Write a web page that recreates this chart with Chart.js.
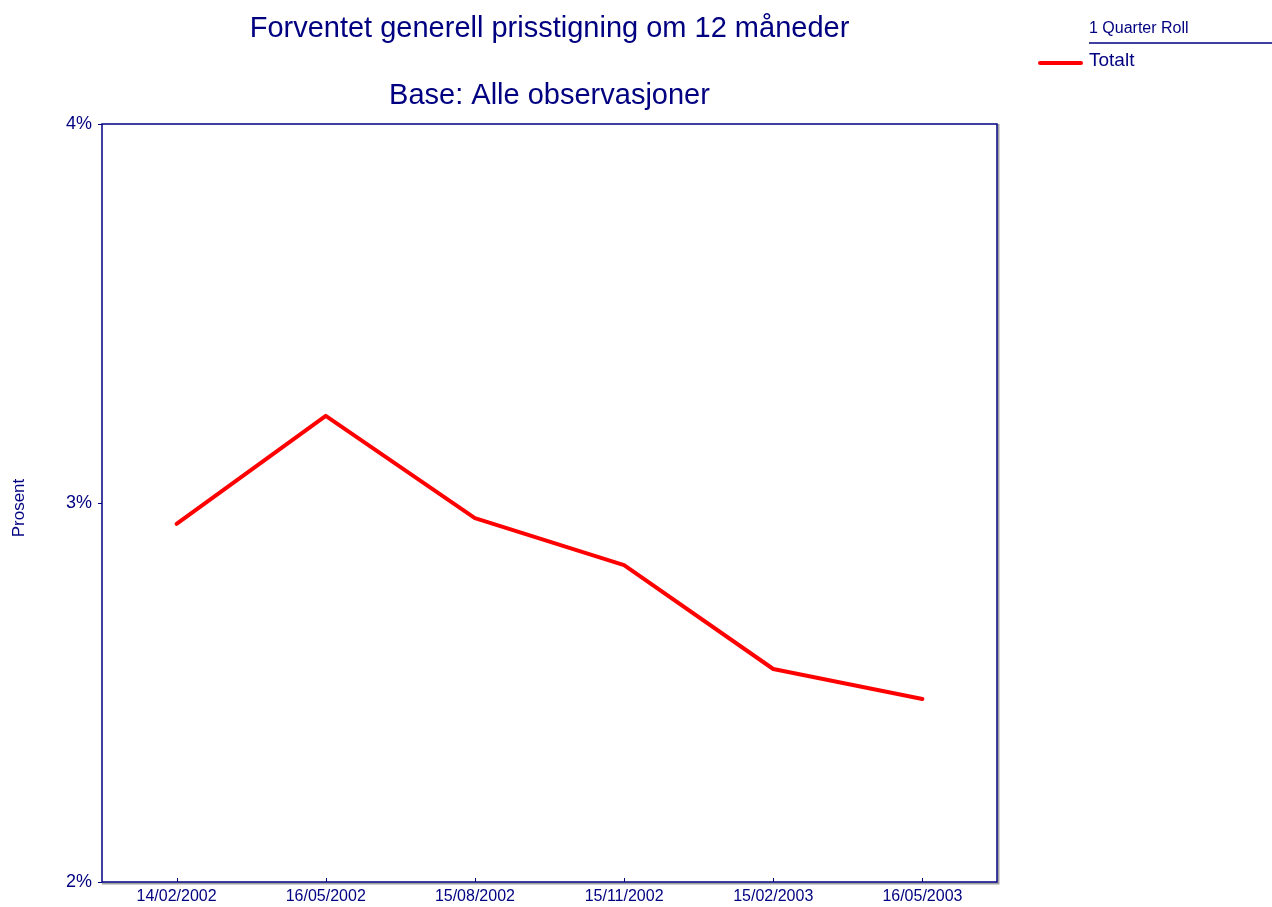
<!DOCTYPE html>
<html lang="no">
<head>
    <meta charset="UTF-8">
    <title>Forventet generell prisstigning</title>
    <script src="https://cdn.jsdelivr.net/npm/chart.js"></script>
    <style>
        html, body { margin: 0; padding: 0; background: #fff; }
        #prisChart { display: block; }
    </style>
</head>
<body>
    <canvas id="prisChart" width="1272" height="907"></canvas>

    <script>
        const datoer = ["14/02/2002", "16/05/2002", "15/08/2002", "15/11/2002", "15/02/2003", "16/05/2003"];
        const totalt = [2.945, 3.23, 2.96, 2.836, 2.562, 2.483];
        const yTicks = [2, 3, 4];

        const navy = "#000080";
        const fontName = "'Liberation Sans', Arial, sans-serif";

        // titles, legend, plot frame and inner x ticks
        const decor = {
            id: "decor",
            afterDraw(chart) {
                const ctx = chart.ctx;
                const a = chart.chartArea;
                const cx = (a.left + a.right) / 2;
                ctx.save();
                ctx.fillStyle = navy;
                ctx.textAlign = "center";
                ctx.textBaseline = "middle";
                ctx.font = "29px " + fontName;
                ctx.fillText("Forventet generell prisstigning om 12 måneder", cx, 29);
                ctx.fillText("Base: Alle observasjoner", cx, 96);

                // y axis title
                ctx.save();
                ctx.translate(19, 508);
                ctx.rotate(-Math.PI / 2);
                ctx.font = "17px " + fontName;
                ctx.fillText("Prosent", 0, 0);
                ctx.restore();

                // frame
                ctx.strokeStyle = "#a0a0a0";
                ctx.lineWidth = 2;
                ctx.beginPath();
                ctx.moveTo(a.left, a.bottom + 1.5);
                ctx.lineTo(a.right + 1.5, a.bottom + 1.5);
                ctx.lineTo(a.right + 1.5, a.top);
                ctx.stroke();
                ctx.strokeStyle = navy;
                ctx.lineWidth = 1.5;
                ctx.strokeRect(a.left, a.top, a.right - a.left, a.bottom - a.top);

                // x ticks pointing up
                const xs = chart.scales.x;
                ctx.lineWidth = 1;
                xs.ticks.forEach((t, i) => {
                    const px = Math.round(xs.getPixelForTick(i)) + 0.5;
                    ctx.beginPath();
                    ctx.moveTo(px, a.bottom);
                    ctx.lineTo(px, a.bottom - 4);
                    ctx.stroke();
                });

                // legend
                const ds = chart.data.datasets[0];
                ctx.textAlign = "left";
                ctx.font = "16px " + fontName;
                ctx.fillText("1 Quarter Roll", 1089, 29);
                ctx.lineWidth = 1.5;
                ctx.beginPath();
                ctx.moveTo(1089, 43);
                ctx.lineTo(1272, 43);
                ctx.stroke();
                ctx.strokeStyle = ds.borderColor;
                ctx.lineWidth = 4;
                ctx.lineCap = "round";
                ctx.beginPath();
                ctx.moveTo(1040, 63);
                ctx.lineTo(1081, 63);
                ctx.stroke();
                ctx.font = "19px " + fontName;
                ctx.fillText(ds.label, 1089, 61);
                ctx.restore();
            }
        };

        new Chart(document.getElementById("prisChart"), {
            type: "line",
            data: {
                labels: datoer,
                datasets: [{
                    label: "Totalt",
                    data: totalt,
                    borderColor: "#ff0000",
                    borderWidth: 4,
                    borderCapStyle: "round",
                    borderJoinStyle: "round",
                    pointRadius: 0,
                    tension: 0,
                    fill: false
                }]
            },
            options: {
                responsive: false,
                animation: false,
                layout: { padding: { top: 124, right: 275, left: 0, bottom: 0 } },
                plugins: {
                    legend: { display: false },
                    title: { display: false },
                    tooltip: { enabled: false }
                },
                scales: {
                    x: {
                        offset: true,
                        border: { display: false },
                        grid: { display: false, drawTicks: false },
                        ticks: {
                            color: navy,
                            font: { family: fontName, size: 16 },
                            maxRotation: 0,
                            autoSkip: false,
                            padding: 5
                        },
                        afterFit(s) { s.height = 25; }
                    },
                    y: {
                        min: 2,
                        max: 4,
                        border: { display: false },
                        grid: { drawOnChartArea: false, drawTicks: true, tickLength: 4, color: navy },
                        afterBuildTicks(s) { s.ticks = yTicks.map(v => ({ value: v })); },
                        ticks: {
                            color: navy,
                            font: { family: fontName, size: 18 },
                            padding: 6,
                            callback: v => v + "%"
                        },
                        afterFit(s) { s.width = 102; }
                    }
                }
            },
            plugins: [decor]
        });
    </script>
</body>
</html>
